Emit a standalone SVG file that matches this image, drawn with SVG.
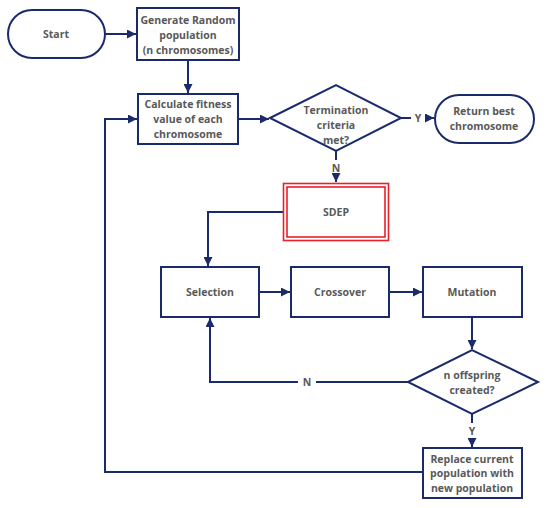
<svg xmlns="http://www.w3.org/2000/svg" width="550" height="508" viewBox="0 0 550 508">
<defs>
<marker id="ah" viewBox="0 0 10 10" refX="10" refY="5" markerWidth="10" markerHeight="9" markerUnits="userSpaceOnUse" orient="auto">
<path d="M0,0 L10,5 L0,10 z" fill="#1b2a6b"/>
</marker>
<style>
.n{fill:#fff;stroke:#1b2a6b;stroke-width:2}
.t{font-family:"Open Sans","Liberation Sans",sans-serif;font-weight:bold;font-size:10.5px;fill:#595959;text-anchor:middle;dominant-baseline:central}
.c{fill:none;stroke:#1b2a6b;stroke-width:2}
.r{fill:none;stroke:#e8202a;stroke-width:1.6}
</style>
</defs>
<rect width="550" height="508" fill="#fff"/>
<g id="connectors">
<path class="c" d="M105,34 H136" marker-end="url(#ah)"/>
<path class="c" d="M188,60 V93" marker-end="url(#ah)"/>
<path class="c" d="M238,119 H269" marker-end="url(#ah)"/>
<path class="c" d="M401,118 H411"/>
<path class="c" d="M425,118 H434" marker-end="url(#ah)"/>
<path class="c" d="M336,151 V160"/>
<path class="c" d="M336,176 V182" marker-end="url(#ah)"/>
<path class="c" d="M283,212 H208 V266" marker-end="url(#ah)"/>
<path class="c" d="M259,292 H290" marker-end="url(#ah)"/>
<path class="c" d="M389,292 H422" marker-end="url(#ah)"/>
<path class="c" d="M472,317 V349" marker-end="url(#ah)"/>
<path class="c" d="M408,382 H316"/>
<path class="c" d="M298,382 H210 V318" marker-end="url(#ah)"/>
<path class="c" d="M472,414 V423"/>
<path class="c" d="M472,439 V447" marker-end="url(#ah)"/>
<path class="c" d="M423,472 H105 V119 H137" marker-end="url(#ah)"/>
<text class="t" x="418" y="118">Y</text>
<text class="t" x="336" y="168">N</text>
<text class="t" x="307" y="382">N</text>
<text class="t" x="472" y="431">Y</text>
</g>
<g id="start">
<rect class="n" x="8" y="10" width="97" height="48" rx="24"/>
<text class="t" x="56" y="34">Start</text>
</g>
<g id="generate">
<rect class="n" x="137" y="8" width="102" height="52"/>
<text class="t" x="188" y="20">Generate Random</text>
<text class="t" x="188" y="35">population</text>
<text class="t" x="188" y="50">(n chromosomes)</text>
</g>
<g id="calculate">
<rect class="n" x="138" y="94" width="100" height="50"/>
<text class="t" x="188" y="104">Calculate fitness</text>
<text class="t" x="188" y="119">value of each</text>
<text class="t" x="188" y="134">chromosome</text>
</g>
<g id="termination">
<polygon class="n" points="270,118 336,85 401,118 336,151"/>
<text class="t" x="336" y="110">Termination</text>
<text class="t" x="336" y="125">criteria</text>
<text class="t" x="336" y="140">met?</text>
</g>
<g id="return">
<rect class="n" x="435" y="95" width="99" height="48" rx="24"/>
<text class="t" x="484" y="111">Return best</text>
<text class="t" x="484" y="126">chromosome</text>
</g>
<g id="sdep">
<rect x="283" y="183" width="106" height="58" fill="#fff"/>
<rect class="r" x="283.5" y="183.5" width="105" height="57"/>
<rect class="r" x="287" y="187" width="98" height="50"/>
<text class="t" x="336" y="212">SDEP</text>
</g>
<g id="selection">
<rect class="n" x="161" y="267" width="98" height="50"/>
<text class="t" x="210" y="292">Selection</text>
</g>
<g id="crossover">
<rect class="n" x="291" y="267" width="98" height="50"/>
<text class="t" x="340" y="292">Crossover</text>
</g>
<g id="mutation">
<rect class="n" x="423" y="267" width="99" height="50"/>
<text class="t" x="472" y="292">Mutation</text>
</g>
<g id="offspring">
<polygon class="n" points="408,382 472,350 538,382 472,414"/>
<text class="t" x="472" y="375">n offspring</text>
<text class="t" x="472" y="390">created?</text>
</g>
<g id="replace">
<rect class="n" x="423" y="448" width="99" height="50"/>
<text class="t" x="472" y="459">Replace current</text>
<text class="t" x="472" y="473">population with</text>
<text class="t" x="472" y="488">new population</text>
</g>
</svg>
